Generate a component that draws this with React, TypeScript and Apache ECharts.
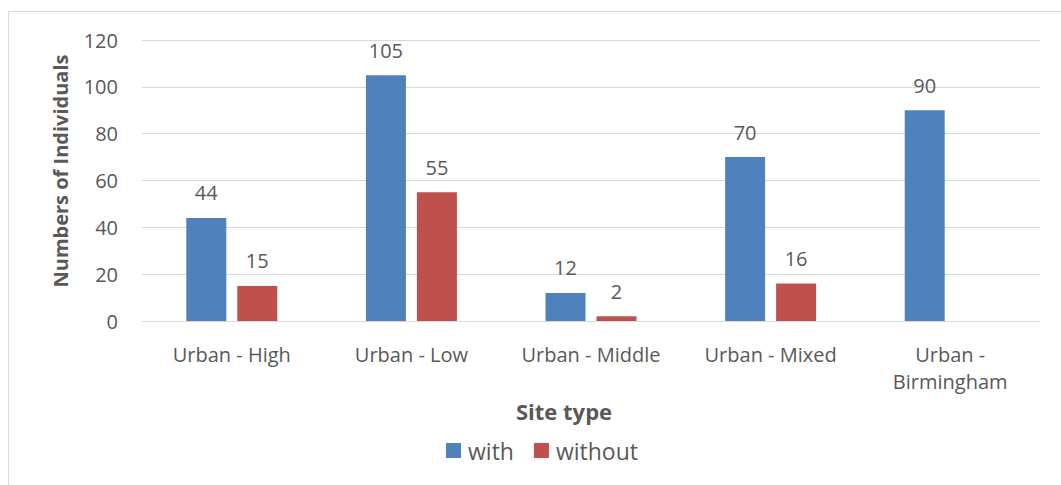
import React, { useEffect, useRef } from "react";
import * as echarts from "echarts";

const categories = ["Urban - High", "Urban - Low", "Urban - Middle", "Urban - Mixed", "Urban -\nBirmingham"];
const withValues = [44, 105, 12, 70, 90];
const withoutValues: (number | null)[] = [15, 55, 2, 16, null];
const yTicks = { min: 0, max: 120, interval: 20 };

const FONT = "'Open Sans', sans-serif";
const TEXT = "#595959";
const GRID = "#D9D9D9";

export default function App() {
  const ref = useRef<HTMLDivElement>(null);
  useEffect(() => {
    if (!ref.current) return;
    const chart = echarts.init(ref.current, undefined, { renderer: "svg" });
    const labelStyle = {
      show: true,
      position: "top" as const,
      distance: 15,
      color: TEXT,
      fontSize: 20,
      fontFamily: FONT,
    };
    chart.setOption({
      animation: false,
      textStyle: { fontFamily: FONT },
      grid: { left: 142, right: 21, top: 40, bottom: 164, containLabel: false },
      legend: {
        left: 441,
        top: 434,
        itemWidth: 15,
        itemHeight: 15,
        itemGap: 20,
        icon: "rect",
        textStyle: { color: TEXT, fontSize: 23, fontFamily: FONT, padding: [0, 0, 0, 2] },
        data: ["with", "without"],
      },
      xAxis: {
        type: "category",
        data: categories,
        axisLine: { lineStyle: { color: GRID, width: 1 } },
        axisTick: { show: false },
        axisLabel: { color: TEXT, fontSize: 20, fontFamily: FONT, margin: 20, lineHeight: 27, interval: 0 },
      },
      yAxis: {
        type: "value",
        min: yTicks.min,
        max: yTicks.max,
        interval: yTicks.interval,
        axisLine: { show: false },
        axisTick: { show: false },
        splitLine: { lineStyle: { color: GRID, width: 1 } },
        axisLabel: { color: TEXT, fontSize: 20, fontFamily: FONT, margin: 24 },
      },
      graphic: [
        {
          type: "rect",
          shape: { x: 8.5, y: 11.5, width: 1100, height: 500 },
          style: { fill: "none", stroke: GRID, lineWidth: 1 },
          silent: true,
        },
        {
          type: "text",
          x: 564,
          y: 411,
          style: {
            text: "Site type",
            fill: TEXT,
            font: `bold 22px ${FONT}`,
            textAlign: "center",
            textVerticalAlign: "middle",
          },
        },
        {
          type: "text",
          x: 60,
          y: 171,
          rotation: Math.PI / 2,
          style: {
            text: "Numbers of Individuals",
            fill: TEXT,
            font: `bold 20px ${FONT}`,
            textAlign: "center",
            textVerticalAlign: "middle",
          },
        },
      ],
      series: [
        {
          name: "with",
          type: "bar",
          data: withValues,
          barWidth: 40,
          barGap: "27.5%",
          itemStyle: { color: "#4F81BD" },
          label: labelStyle,
        },
        {
          name: "without",
          type: "bar",
          data: withoutValues,
          barWidth: 40,
          barGap: "27.5%",
          itemStyle: { color: "#C0504D" },
          label: labelStyle,
        },
      ],
    });
    return () => chart.dispose();
  }, []);
  return (
    <div
      ref={ref}
      style={{ position: "fixed", left: 0, top: 0, width: 1061, height: 485, background: "#fff" }}
    />
  );
}
